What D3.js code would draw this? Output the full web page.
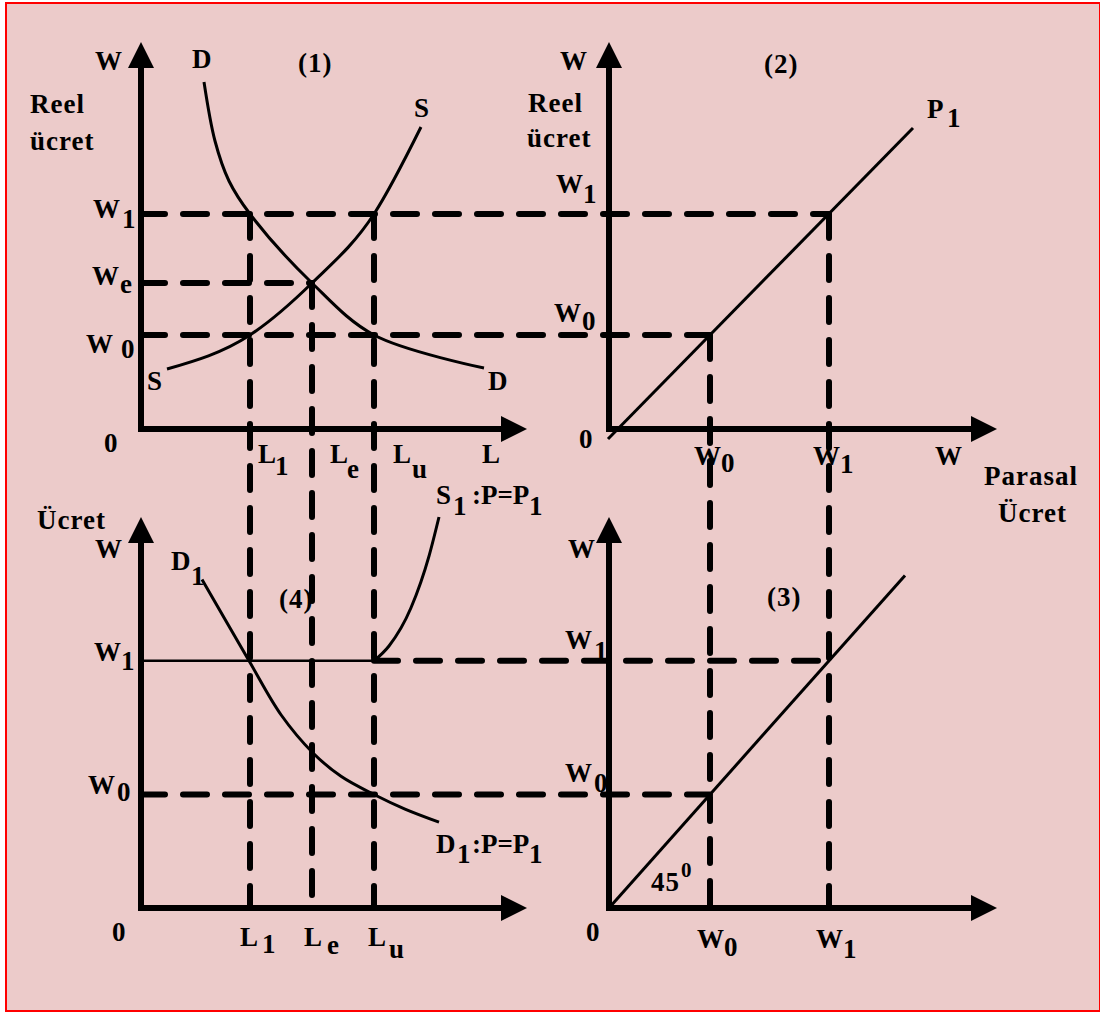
<!DOCTYPE html>
<html>
<head>
<meta charset="utf-8">
<script src="https://cdn.jsdelivr.net/npm/d3@7"></script>
<style>
  html, body { margin: 0; padding: 0; background: #fff; }
  svg text {
    font-family: 'Liberation Serif', 'Times New Roman', serif;
    font-weight: bold;
    font-size: 27px;
    letter-spacing: 1px;
    fill: #000;
  }
</style>
</head>
<body>
<svg width="1100" height="1013"></svg>
<script>
// values (abstract units)
const labourValues = [27.25, 42.75, 58.25]; // L1, Le, Lu
const labourSubs = ['1', 'e', 'u'];
const realWageValues = [23.5, 36.5, 53.75]; // W0, We, W1 (real)
const realWageSubs = ['0', 'e', '1'];
const moneyWageValues = [25.25, 55]; // W0, W1 (money)
const moneyWageSubs = ['0', '1'];

// panel (1): labour demand / supply in real wages
const demandCurve = [[15.75, 86.75], [18.5, 72], [22, 62], [27.25, 53.75], [42.75, 36.5], [58.25, 23.5], [85.75, 15.25]];
const supplyCurve = [[6.5, 15], [27.25, 23.5], [42.75, 36.5], [58.25, 53.75], [70, 75.5]];
// panel (2): money wage -> real wage at P = P1
const priceLine = [[-0.25, -2.5], [76, 75.25]];
// panel (3): 45 degree line
const line45 = [[0, 0], [74, 74]];
// panel (4): labour demand / supply in money wages
const demandCurveP1 = [[15.25, 73.1], [27, 55], [35, 43], [43, 34.5], [50, 29.3], [58.25, 25.25], [66, 22], [74.5, 19.1]];
const supplyCurveP1 = [[58.25, 55], [62, 58.3], [67.5, 66.8], [72, 78.3], [74.5, 87]];

const svg = d3.select('svg');

svg
  .append('rect')
  .attr('x', 6)
  .attr('y', 3)
  .attr('width', 1094)
  .attr('height', 1008)
  .attr('fill', '#eccbca')
  .attr('stroke', '#ff0000')
  .attr('stroke-width', 2);

const xL = d3.scaleLinear().domain([0, 96.5]).range([141, 527]);
const yReal = d3.scaleLinear().domain([0, 96.75]).range([429, 42]);
const xMoney = d3.scaleLinear().domain([0, 97]).range([609, 997]);
const yMoney = d3.scaleLinear().domain([0, 87]).range([908, 517]);

const g = svg.append('g');

function dash(x1, y1, x2, y2) {
  g.append('line')
    .attr('x1', x1)
    .attr('y1', y1)
    .attr('x2', x2)
    .attr('y2', y2)
    .attr('stroke', '#000')
    .attr('stroke-width', 6)
    .attr('stroke-dasharray', '24 18')
    .attr('stroke-linecap', 'round');
}

const [L1, Le, Lu] = labourValues;
const [rW0, rWe, rW1] = realWageValues;
const [mW0, mW1] = moneyWageValues;

// guide lines running between the four panels
dash(xL(0), yReal(rW1), xMoney(mW1), yReal(rW1));
dash(xL(0), yReal(rWe), xL(Le), yReal(rWe));
dash(xL(0), yReal(rW0), xMoney(mW0), yReal(rW0));
dash(xL(L1), yReal(rW1), xL(L1), yMoney(0));
dash(xL(Le), yReal(rWe), xL(Le), yMoney(0));
dash(xL(Lu), yReal(rW1), xL(Lu), yMoney(0));
dash(xMoney(mW0), yReal(rW0), xMoney(mW0), yMoney(0));
dash(xMoney(mW1), yReal(rW1), xMoney(mW1), yMoney(0));
dash(xL(Lu), yMoney(mW1), xMoney(mW1), yMoney(mW1));
dash(xL(0), yMoney(mW0), xMoney(mW0), yMoney(mW0));

// solid money-wage floor in panel (4)
g.append('line')
  .attr('x1', xL(0))
  .attr('x2', xL(Lu))
  .attr('y1', yMoney(mW1))
  .attr('y2', yMoney(mW1))
  .attr('stroke', '#000')
  .attr('stroke-width', 2.5);

function curve(data, xs, ys, shape) {
  const line = d3
    .line()
    .x(d => xs(d[0]))
    .y(d => ys(d[1]))
    .curve(shape || d3.curveMonotoneX);
  g.append('path')
    .datum(data)
    .attr('d', line)
    .attr('fill', 'none')
    .attr('stroke', '#000')
    .attr('stroke-width', 3);
}

curve(demandCurve, xL, yReal, d3.curveCatmullRom.alpha(0.5));
curve(supplyCurve, xL, yReal);
curve(priceLine, xMoney, yReal, d3.curveLinear);
curve(line45, xMoney, yMoney, d3.curveLinear);
curve(demandCurveP1, xL, yMoney, d3.curveCatmullRom.alpha(0.5));
curve(supplyCurveP1, xL, yMoney);

function axes(xs, ys) {
  const x0 = xs.range()[0],
    x1 = xs.range()[1],
    y0 = ys.range()[0],
    y1 = ys.range()[1];
  g.append('line')
    .attr('x1', x0)
    .attr('y1', y0 + 3)
    .attr('x2', x0)
    .attr('y2', y1 + 20)
    .attr('stroke', '#000')
    .attr('stroke-width', 6);
  g.append('line')
    .attr('x1', x0 - 3)
    .attr('y1', y0)
    .attr('x2', x1 - 20)
    .attr('y2', y0)
    .attr('stroke', '#000')
    .attr('stroke-width', 6);
  g.append('path')
    .attr('d', `M${x0},${y1}L${x0 - 13},${y1 + 26}L${x0 + 13},${y1 + 26}Z`)
    .attr('fill', '#000');
  g.append('path')
    .attr('d', `M${x1},${y0}L${x1 - 26},${y0 - 13}L${x1 - 26},${y0 + 13}Z`)
    .attr('fill', '#000');
}

axes(xL, yReal);
axes(xMoney, yReal);
axes(xMoney, yMoney);
axes(xL, yMoney);

function t(x, y, s, size) {
  const el = svg
    .append('text')
    .attr('x', x)
    .attr('y', y)
    .text(s);
  if (size) el.style('font-size', size + 'px');
  return el;
}

// sub/superscripted label: base letter then small part at its own spot
function st(x, y, base, sub, sx, sy, size) {
  t(x, y, base);
  t(sx, sy, sub, size);
}

// ---- panel (1)
t(95, 70, 'W');
t(30, 113, 'Reel');
t(30, 150, 'ücret');
t(192, 68, 'D');
t(298, 72, '(1)');
t(414, 117, 'S');
t(147, 390, 'S');
t(488, 390, 'D');
t(104, 452, '0');
t(482, 463, 'L');
const realTickX = [86, 92, 93];
const realTickY = [18, 2, 4];
const realSubDx = [35, 28, 29];
const realSubDy = [5, 8, 10];
realWageValues.forEach((v, i) => {
  const y = yReal(v) + realTickY[i];
  st(realTickX[i], y, 'W', realWageSubs[i], realTickX[i] + realSubDx[i], y + realSubDy[i]);
});
const topLabDx = [8, 18, 19];
const topSubDx = [17, 17, 19];
const topSubY = [475, 478, 478];
labourValues.forEach((v, i) => {
  const x = xL(v) + topLabDx[i];
  st(x, 463, 'L', labourSubs[i], x + topSubDx[i], topSubY[i]);
});

// ---- panel (2)
t(560, 70, 'W');
t(764, 73, '(2)');
t(528, 112, 'Reel');
t(527, 147, 'ücret');
st(556, 193, 'W', '1', 583, 203);
st(554, 322, 'W', '0', 582, 330);
st(927, 118, 'P', '1', 947, 127);
t(579, 448, '0');
const moneySubY = [472, 473];
moneyWageValues.forEach((v, i) => {
  const x = xMoney(v) - 16;
  st(x, 465, 'W', moneyWageSubs[i], x + 27, moneySubY[i]);
});
t(935, 465, 'W');
t(984, 485, 'Parasal');
t(998, 522, 'Ücret');

// ---- panel (3)
t(568, 558, 'W');
t(767, 606, '(3)');
st(565, 649, 'W', '1', 594, 660);
st(565, 782, 'W', '0', 594, 792);
st(651, 891, '45', '0', 681, 877, 21);
t(586, 941, '0');
const botSubY = [956, 958];
moneyWageValues.forEach((v, i) => {
  const x = xMoney(v) - 13;
  st(x, 948, 'W', moneyWageSubs[i], x + 27, botSubY[i]);
});

// ---- panel (4)
t(37, 529, 'Ücret');
t(95, 558, 'W');
st(171, 570, 'D', '1', 191, 585);
t(279, 608, '(4)');
[[504, 515, 'S', 453], [853, 863, 'D', 457]].forEach(([y, ys, c, sx]) => {
  t(436, y, c);
  t(sx, ys, '1').style('letter-spacing', '0px');
  t(472, y, ':P=P').style('letter-spacing', '0px');
  t(529, ys, '1');
});
st(94, 661, 'W', '1', 121, 670);
st(88, 794, 'W', '0', 117, 801);
t(112, 941, '0');
const lowLabDx = [-10, -8, -6];
const lowSubDx = [22, 23, 21];
const lowSubY = [953, 954, 958];
labourValues.forEach((v, i) => {
  const x = xL(v) + lowLabDx[i];
  st(x, 946, 'L', labourSubs[i], x + lowSubDx[i], lowSubY[i]);
});
</script>
</body>
</html>
